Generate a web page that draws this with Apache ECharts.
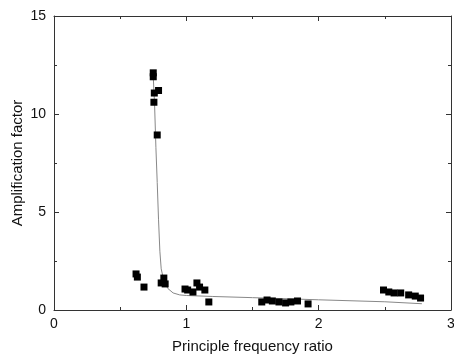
<!DOCTYPE html>
<html><head><meta charset="utf-8">
<script src="https://cdn.jsdelivr.net/npm/echarts@6/dist/echarts.min.js"></script>
<style>html,body{margin:0;padding:0;background:#fff}#c{width:454px;height:356px}</style>
</head><body><div id="c"></div>
<script>
var pointX = [0.75, 0.75, 0.758, 0.79, 0.755, 0.78, 0.62, 0.63, 0.68, 0.81, 0.83, 0.84, 0.99, 1.01, 1.05, 1.08, 1.10, 1.14, 1.17, 1.57, 1.61, 1.65, 1.70, 1.75, 1.79, 1.84, 1.92, 2.49, 2.53, 2.57, 2.62, 2.68, 2.73, 2.77];
var pointY = [12.1, 11.9, 11.07, 11.2, 10.6, 8.93, 1.84, 1.68, 1.17, 1.38, 1.63, 1.33, 1.07, 1.02, 0.92, 1.38, 1.17, 1.02, 0.41, 0.41, 0.51, 0.46, 0.41, 0.36, 0.41, 0.46, 0.31, 1.02, 0.92, 0.87, 0.87, 0.77, 0.71, 0.61];
var curveX = [0.75, 0.76, 0.77, 0.78, 0.79, 0.80, 0.81, 0.83, 0.86, 0.90, 0.95, 1.0, 1.2, 1.5, 2.0, 2.5, 2.78];
var curveY = [11.9, 10.5, 8.3, 6.5, 4.6, 3.0, 2.1, 1.5, 1.1, 0.87, 0.77, 0.74, 0.69, 0.63, 0.52, 0.42, 0.32];
var xTicks = [0, 1, 2, 3];
var yTicks = [0, 5, 10, 15];
var xTitle = 'Principle frequency ratio';
var yTitle = 'Amplification factor';

var axisCol = '#333';
var font = 'Liberation Sans, Arial, sans-serif';
function pairs(a, b) { return a.map(function (v, i) { return [v, b[i]]; }); }
var chart = echarts.init(document.getElementById('c'));
var baseX = {
  type: 'value', min: xTicks[0], max: xTicks[xTicks.length - 1], interval: 1,
  axisLine: { show: true, onZero: false, lineStyle: { color: axisCol, width: 1 } },
  axisTick: { show: true, inside: true, length: 5, lineStyle: { color: axisCol } },
  minorTick: { show: true, splitNumber: 2, length: 3, lineStyle: { color: axisCol } },
  splitLine: { show: false }
};
var baseY = {
  type: 'value', min: yTicks[0], max: yTicks[yTicks.length - 1], interval: 5,
  axisLine: { show: true, onZero: false, lineStyle: { color: axisCol, width: 1 } },
  axisTick: { show: true, inside: true, length: 5, lineStyle: { color: axisCol } },
  minorTick: { show: true, splitNumber: 2, length: 3, lineStyle: { color: axisCol } },
  splitLine: { show: false }
};
chart.setOption({
  animation: false,
  backgroundColor: '#fff',
  grid: { left: 54, right: 3, top: 16, bottom: 46, containLabel: false, outerBoundsMode: 'none' },
  xAxis: [
    Object.assign({}, baseX, {
      position: 'bottom', name: xTitle, nameLocation: 'middle', nameGap: 29,
      nameTextStyle: { fontFamily: font, fontSize: 15, color: '#111' },
      axisLabel: { show: true, margin: 7, fontFamily: font, fontSize: 14, color: '#111' }
    }),
    Object.assign({}, baseX, { position: 'top', axisLabel: { show: false } })
  ],
  yAxis: [
    Object.assign({}, baseY, {
      position: 'left', name: yTitle, nameLocation: 'middle', nameGap: 29, nameMoveOverlap: false,
      nameTextStyle: { fontFamily: font, fontSize: 15, color: '#111' },
      axisLabel: { show: true, margin: 8, fontFamily: font, fontSize: 14, color: '#111' }
    }),
    Object.assign({}, baseY, { position: 'right', axisLabel: { show: false } })
  ],
  series: [
    {
      type: 'line', data: pairs(curveX, curveY), showSymbol: false, smooth: false,
      lineStyle: { color: '#888', width: 1 }, z: 2
    },
    {
      type: 'scatter', data: pairs(pointX, pointY), symbol: 'rect', symbolSize: 7,
      itemStyle: { color: '#000', opacity: 1 }, z: 3
    }
  ]
});
</script></body></html>
